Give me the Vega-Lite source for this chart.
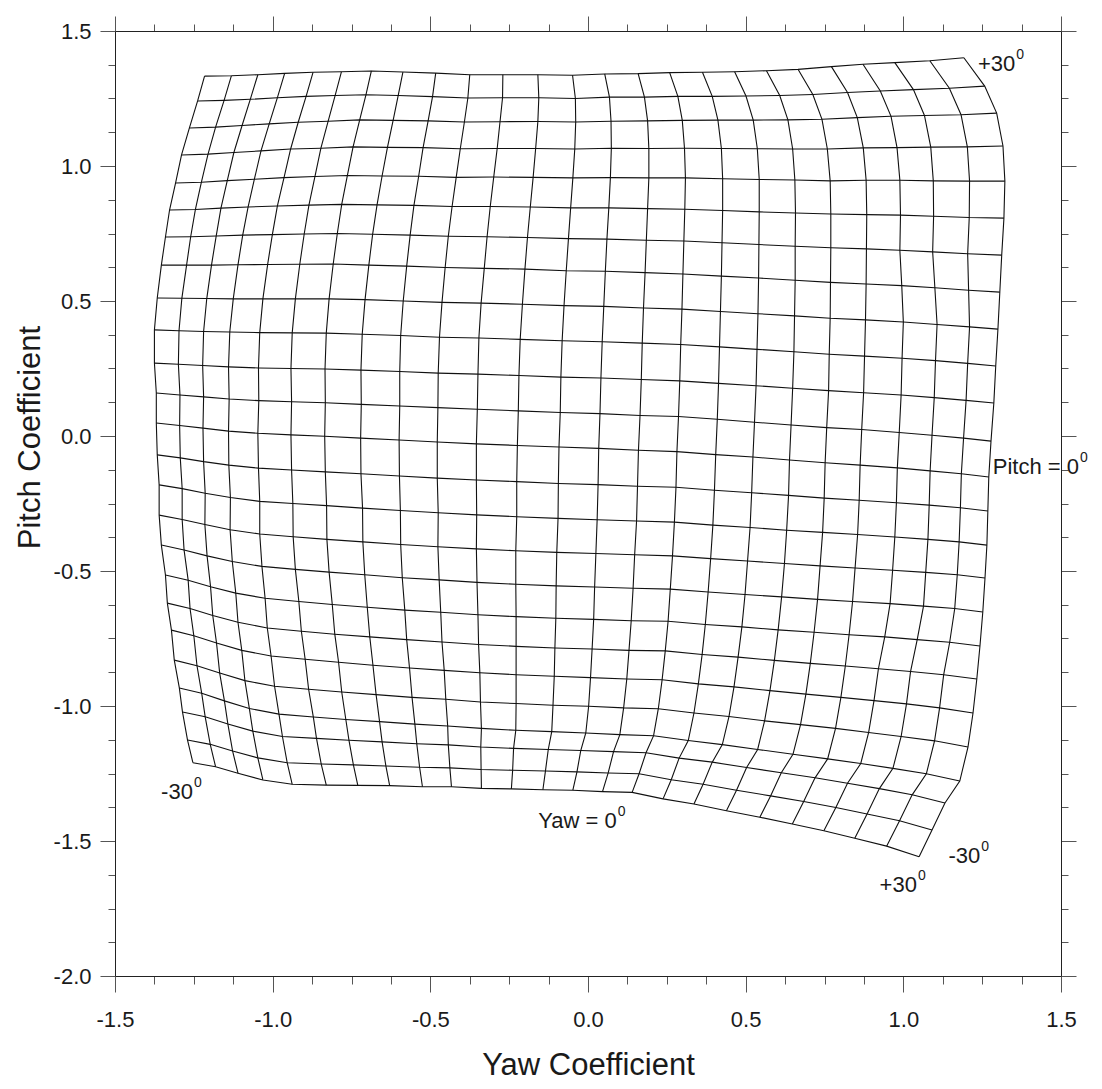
{
  "$schema": "https://vega.github.io/schema/vega-lite/v6.json",
  "width": 946,
  "height": 945,
  "autosize": {"type": "none"},
  "padding": {"left": 115, "top": 31, "right": 41, "bottom": 113},
  "background": "white",
  "config": {"view": {"stroke": null}, "font": "Liberation Sans"},
  "datasets": {
    "grid": [
{"yaw":-30,"pitch":-30,"x":-1.253,"y":-1.210},{"yaw":-27.5,"pitch":-30,"x":-1.181,"y":-1.225},{"yaw":-25,"pitch":-30,"x":-1.110,"y":-1.249},{"yaw":-22.5,"pitch":-30,"x":-1.031,"y":-1.274},{"yaw":-20,"pitch":-30,"x":-0.938,"y":-1.290},{"yaw":-17.5,"pitch":-30,"x":-0.830,"y":-1.293},{"yaw":-15,"pitch":-30,"x":-0.730,"y":-1.294},{"yaw":-12.5,"pitch":-30,"x":-0.629,"y":-1.295},{"yaw":-10,"pitch":-30,"x":-0.525,"y":-1.299},{"yaw":-7.5,"pitch":-30,"x":-0.433,"y":-1.299},{"yaw":-5,"pitch":-30,"x":-0.338,"y":-1.305},{"yaw":-2.5,"pitch":-30,"x":-0.243,"y":-1.307},{"yaw":0,"pitch":-30,"x":-0.143,"y":-1.310},{"yaw":2.5,"pitch":-30,"x":-0.048,"y":-1.312},{"yaw":5,"pitch":-30,"x":0.046,"y":-1.317},{"yaw":7.5,"pitch":-30,"x":0.140,"y":-1.320},{"yaw":10,"pitch":-30,"x":0.238,"y":-1.344},{"yaw":12.5,"pitch":-30,"x":0.336,"y":-1.363},{"yaw":15,"pitch":-30,"x":0.439,"y":-1.388},{"yaw":17.5,"pitch":-30,"x":0.545,"y":-1.412},{"yaw":20,"pitch":-30,"x":0.648,"y":-1.437},{"yaw":22.5,"pitch":-30,"x":0.748,"y":-1.462},{"yaw":25,"pitch":-30,"x":0.846,"y":-1.490},{"yaw":27.5,"pitch":-30,"x":0.947,"y":-1.519},{"yaw":30,"pitch":-30,"x":1.050,"y":-1.558},
{"yaw":-30,"pitch":-27.5,"x":-1.270,"y":-1.126},{"yaw":-27.5,"pitch":-27.5,"x":-1.198,"y":-1.142},{"yaw":-25,"pitch":-27.5,"x":-1.127,"y":-1.167},{"yaw":-22.5,"pitch":-27.5,"x":-1.047,"y":-1.192},{"yaw":-20,"pitch":-27.5,"x":-0.954,"y":-1.210},{"yaw":-17.5,"pitch":-27.5,"x":-0.846,"y":-1.215},{"yaw":-15,"pitch":-27.5,"x":-0.744,"y":-1.218},{"yaw":-12.5,"pitch":-27.5,"x":-0.641,"y":-1.222},{"yaw":-10,"pitch":-27.5,"x":-0.534,"y":-1.227},{"yaw":-7.5,"pitch":-27.5,"x":-0.438,"y":-1.229},{"yaw":-5,"pitch":-27.5,"x":-0.339,"y":-1.235},{"yaw":-2.5,"pitch":-27.5,"x":-0.239,"y":-1.238},{"yaw":0,"pitch":-27.5,"x":-0.135,"y":-1.241},{"yaw":2.5,"pitch":-27.5,"x":-0.035,"y":-1.244},{"yaw":5,"pitch":-27.5,"x":0.064,"y":-1.248},{"yaw":7.5,"pitch":-27.5,"x":0.162,"y":-1.251},{"yaw":10,"pitch":-27.5,"x":0.264,"y":-1.273},{"yaw":12.5,"pitch":-27.5,"x":0.365,"y":-1.290},{"yaw":15,"pitch":-27.5,"x":0.471,"y":-1.312},{"yaw":17.5,"pitch":-27.5,"x":0.579,"y":-1.333},{"yaw":20,"pitch":-27.5,"x":0.684,"y":-1.354},{"yaw":22.5,"pitch":-27.5,"x":0.786,"y":-1.376},{"yaw":25,"pitch":-27.5,"x":0.885,"y":-1.400},{"yaw":27.5,"pitch":-27.5,"x":0.988,"y":-1.425},{"yaw":30,"pitch":-27.5,"x":1.091,"y":-1.459},
{"yaw":-30,"pitch":-25,"x":-1.286,"y":-1.022},{"yaw":-27.5,"pitch":-25,"x":-1.214,"y":-1.040},{"yaw":-25,"pitch":-25,"x":-1.142,"y":-1.067},{"yaw":-22.5,"pitch":-25,"x":-1.063,"y":-1.093},{"yaw":-20,"pitch":-25,"x":-0.969,"y":-1.113},{"yaw":-17.5,"pitch":-25,"x":-0.861,"y":-1.120},{"yaw":-15,"pitch":-25,"x":-0.758,"y":-1.127},{"yaw":-12.5,"pitch":-25,"x":-0.653,"y":-1.133},{"yaw":-10,"pitch":-25,"x":-0.543,"y":-1.140},{"yaw":-7.5,"pitch":-25,"x":-0.443,"y":-1.144},{"yaw":-5,"pitch":-25,"x":-0.340,"y":-1.152},{"yaw":-2.5,"pitch":-25,"x":-0.236,"y":-1.157},{"yaw":0,"pitch":-25,"x":-0.126,"y":-1.161},{"yaw":2.5,"pitch":-25,"x":-0.023,"y":-1.165},{"yaw":5,"pitch":-25,"x":0.081,"y":-1.169},{"yaw":7.5,"pitch":-25,"x":0.184,"y":-1.173},{"yaw":10,"pitch":-25,"x":0.289,"y":-1.193},{"yaw":12.5,"pitch":-25,"x":0.394,"y":-1.208},{"yaw":15,"pitch":-25,"x":0.503,"y":-1.228},{"yaw":17.5,"pitch":-25,"x":0.613,"y":-1.247},{"yaw":20,"pitch":-25,"x":0.720,"y":-1.266},{"yaw":22.5,"pitch":-25,"x":0.823,"y":-1.286},{"yaw":25,"pitch":-25,"x":0.924,"y":-1.306},{"yaw":27.5,"pitch":-25,"x":1.028,"y":-1.329},{"yaw":30,"pitch":-25,"x":1.132,"y":-1.359},
{"yaw":-30,"pitch":-22.5,"x":-1.296,"y":-0.933},{"yaw":-27.5,"pitch":-22.5,"x":-1.225,"y":-0.953},{"yaw":-25,"pitch":-22.5,"x":-1.153,"y":-0.981},{"yaw":-22.5,"pitch":-22.5,"x":-1.074,"y":-1.009},{"yaw":-20,"pitch":-22.5,"x":-0.980,"y":-1.030},{"yaw":-17.5,"pitch":-22.5,"x":-0.871,"y":-1.041},{"yaw":-15,"pitch":-22.5,"x":-0.768,"y":-1.050},{"yaw":-12.5,"pitch":-22.5,"x":-0.661,"y":-1.058},{"yaw":-10,"pitch":-22.5,"x":-0.549,"y":-1.067},{"yaw":-7.5,"pitch":-22.5,"x":-0.445,"y":-1.074},{"yaw":-5,"pitch":-22.5,"x":-0.338,"y":-1.083},{"yaw":-2.5,"pitch":-22.5,"x":-0.229,"y":-1.090},{"yaw":0,"pitch":-22.5,"x":-0.115,"y":-1.095},{"yaw":2.5,"pitch":-22.5,"x":-0.007,"y":-1.100},{"yaw":5,"pitch":-22.5,"x":0.101,"y":-1.106},{"yaw":7.5,"pitch":-22.5,"x":0.208,"y":-1.110},{"yaw":10,"pitch":-22.5,"x":0.318,"y":-1.128},{"yaw":12.5,"pitch":-22.5,"x":0.426,"y":-1.143},{"yaw":15,"pitch":-22.5,"x":0.538,"y":-1.161},{"yaw":17.5,"pitch":-22.5,"x":0.650,"y":-1.179},{"yaw":20,"pitch":-22.5,"x":0.760,"y":-1.196},{"yaw":22.5,"pitch":-22.5,"x":0.865,"y":-1.213},{"yaw":25,"pitch":-22.5,"x":0.967,"y":-1.231},{"yaw":27.5,"pitch":-22.5,"x":1.073,"y":-1.251},{"yaw":30,"pitch":-22.5,"x":1.179,"y":-1.278},
{"yaw":-30,"pitch":-20,"x":-1.312,"y":-0.830},{"yaw":-27.5,"pitch":-20,"x":-1.240,"y":-0.851},{"yaw":-25,"pitch":-20,"x":-1.168,"y":-0.878},{"yaw":-22.5,"pitch":-20,"x":-1.088,"y":-0.906},{"yaw":-20,"pitch":-20,"x":-0.994,"y":-0.927},{"yaw":-17.5,"pitch":-20,"x":-0.886,"y":-0.938},{"yaw":-15,"pitch":-20,"x":-0.781,"y":-0.948},{"yaw":-12.5,"pitch":-20,"x":-0.672,"y":-0.958},{"yaw":-10,"pitch":-20,"x":-0.558,"y":-0.968},{"yaw":-7.5,"pitch":-20,"x":-0.451,"y":-0.975},{"yaw":-5,"pitch":-20,"x":-0.341,"y":-0.985},{"yaw":-2.5,"pitch":-20,"x":-0.228,"y":-0.991},{"yaw":0,"pitch":-20,"x":-0.111,"y":-0.997},{"yaw":2.5,"pitch":-20,"x":0.002,"y":-1.001},{"yaw":5,"pitch":-20,"x":0.113,"y":-1.007},{"yaw":7.5,"pitch":-20,"x":0.223,"y":-1.010},{"yaw":10,"pitch":-20,"x":0.336,"y":-1.026},{"yaw":12.5,"pitch":-20,"x":0.447,"y":-1.039},{"yaw":15,"pitch":-20,"x":0.560,"y":-1.055},{"yaw":17.5,"pitch":-20,"x":0.674,"y":-1.069},{"yaw":20,"pitch":-20,"x":0.785,"y":-1.083},{"yaw":22.5,"pitch":-20,"x":0.890,"y":-1.098},{"yaw":25,"pitch":-20,"x":0.993,"y":-1.113},{"yaw":27.5,"pitch":-20,"x":1.099,"y":-1.129},{"yaw":30,"pitch":-20,"x":1.205,"y":-1.152},
{"yaw":-30,"pitch":-17.5,"x":-1.321,"y":-0.719},{"yaw":-27.5,"pitch":-17.5,"x":-1.250,"y":-0.740},{"yaw":-25,"pitch":-17.5,"x":-1.178,"y":-0.767},{"yaw":-22.5,"pitch":-17.5,"x":-1.098,"y":-0.794},{"yaw":-20,"pitch":-17.5,"x":-1.005,"y":-0.815},{"yaw":-17.5,"pitch":-17.5,"x":-0.897,"y":-0.827},{"yaw":-15,"pitch":-17.5,"x":-0.791,"y":-0.838},{"yaw":-12.5,"pitch":-17.5,"x":-0.682,"y":-0.849},{"yaw":-10,"pitch":-17.5,"x":-0.566,"y":-0.859},{"yaw":-7.5,"pitch":-17.5,"x":-0.456,"y":-0.868},{"yaw":-5,"pitch":-17.5,"x":-0.343,"y":-0.877},{"yaw":-2.5,"pitch":-17.5,"x":-0.228,"y":-0.884},{"yaw":0,"pitch":-17.5,"x":-0.107,"y":-0.890},{"yaw":2.5,"pitch":-17.5,"x":0.008,"y":-0.895},{"yaw":5,"pitch":-17.5,"x":0.123,"y":-0.900},{"yaw":7.5,"pitch":-17.5,"x":0.235,"y":-0.903},{"yaw":10,"pitch":-17.5,"x":0.350,"y":-0.918},{"yaw":12.5,"pitch":-17.5,"x":0.463,"y":-0.929},{"yaw":15,"pitch":-17.5,"x":0.577,"y":-0.943},{"yaw":17.5,"pitch":-17.5,"x":0.691,"y":-0.956},{"yaw":20,"pitch":-17.5,"x":0.802,"y":-0.968},{"yaw":22.5,"pitch":-17.5,"x":0.907,"y":-0.980},{"yaw":25,"pitch":-17.5,"x":1.010,"y":-0.992},{"yaw":27.5,"pitch":-17.5,"x":1.115,"y":-1.007},{"yaw":30,"pitch":-17.5,"x":1.221,"y":-1.026},
{"yaw":-30,"pitch":-15,"x":-1.334,"y":-0.619},{"yaw":-27.5,"pitch":-15,"x":-1.262,"y":-0.639},{"yaw":-25,"pitch":-15,"x":-1.190,"y":-0.665},{"yaw":-22.5,"pitch":-15,"x":-1.110,"y":-0.690},{"yaw":-20,"pitch":-15,"x":-1.017,"y":-0.711},{"yaw":-17.5,"pitch":-15,"x":-0.909,"y":-0.723},{"yaw":-15,"pitch":-15,"x":-0.803,"y":-0.734},{"yaw":-12.5,"pitch":-15,"x":-0.692,"y":-0.744},{"yaw":-10,"pitch":-15,"x":-0.575,"y":-0.754},{"yaw":-7.5,"pitch":-15,"x":-0.463,"y":-0.763},{"yaw":-5,"pitch":-15,"x":-0.347,"y":-0.772},{"yaw":-2.5,"pitch":-15,"x":-0.228,"y":-0.779},{"yaw":0,"pitch":-15,"x":-0.105,"y":-0.785},{"yaw":2.5,"pitch":-15,"x":0.013,"y":-0.789},{"yaw":5,"pitch":-15,"x":0.130,"y":-0.794},{"yaw":7.5,"pitch":-15,"x":0.245,"y":-0.796},{"yaw":10,"pitch":-15,"x":0.362,"y":-0.809},{"yaw":12.5,"pitch":-15,"x":0.476,"y":-0.819},{"yaw":15,"pitch":-15,"x":0.591,"y":-0.831},{"yaw":17.5,"pitch":-15,"x":0.705,"y":-0.842},{"yaw":20,"pitch":-15,"x":0.816,"y":-0.852},{"yaw":22.5,"pitch":-15,"x":0.921,"y":-0.862},{"yaw":25,"pitch":-15,"x":1.023,"y":-0.872},{"yaw":27.5,"pitch":-15,"x":1.128,"y":-0.884},{"yaw":30,"pitch":-15,"x":1.233,"y":-0.900},
{"yaw":-30,"pitch":-12.5,"x":-1.340,"y":-0.515},{"yaw":-27.5,"pitch":-12.5,"x":-1.268,"y":-0.534},{"yaw":-25,"pitch":-12.5,"x":-1.197,"y":-0.558},{"yaw":-22.5,"pitch":-12.5,"x":-1.117,"y":-0.582},{"yaw":-20,"pitch":-12.5,"x":-1.024,"y":-0.601},{"yaw":-17.5,"pitch":-12.5,"x":-0.917,"y":-0.613},{"yaw":-15,"pitch":-12.5,"x":-0.811,"y":-0.624},{"yaw":-12.5,"pitch":-12.5,"x":-0.700,"y":-0.634},{"yaw":-10,"pitch":-12.5,"x":-0.581,"y":-0.645},{"yaw":-7.5,"pitch":-12.5,"x":-0.467,"y":-0.653},{"yaw":-5,"pitch":-12.5,"x":-0.349,"y":-0.662},{"yaw":-2.5,"pitch":-12.5,"x":-0.228,"y":-0.669},{"yaw":0,"pitch":-12.5,"x":-0.102,"y":-0.675},{"yaw":2.5,"pitch":-12.5,"x":0.018,"y":-0.679},{"yaw":5,"pitch":-12.5,"x":0.137,"y":-0.684},{"yaw":7.5,"pitch":-12.5,"x":0.254,"y":-0.686},{"yaw":10,"pitch":-12.5,"x":0.372,"y":-0.698},{"yaw":12.5,"pitch":-12.5,"x":0.488,"y":-0.707},{"yaw":15,"pitch":-12.5,"x":0.603,"y":-0.718},{"yaw":17.5,"pitch":-12.5,"x":0.717,"y":-0.727},{"yaw":20,"pitch":-12.5,"x":0.828,"y":-0.736},{"yaw":22.5,"pitch":-12.5,"x":0.941,"y":-0.744},{"yaw":25,"pitch":-12.5,"x":1.044,"y":-0.754},{"yaw":27.5,"pitch":-12.5,"x":1.147,"y":-0.764},{"yaw":30,"pitch":-12.5,"x":1.243,"y":-0.778},
{"yaw":-30,"pitch":-10,"x":-1.353,"y":-0.404},{"yaw":-27.5,"pitch":-10,"x":-1.281,"y":-0.422},{"yaw":-25,"pitch":-10,"x":-1.208,"y":-0.444},{"yaw":-22.5,"pitch":-10,"x":-1.128,"y":-0.465},{"yaw":-20,"pitch":-10,"x":-1.034,"y":-0.483},{"yaw":-17.5,"pitch":-10,"x":-0.928,"y":-0.494},{"yaw":-15,"pitch":-10,"x":-0.821,"y":-0.504},{"yaw":-12.5,"pitch":-10,"x":-0.708,"y":-0.514},{"yaw":-10,"pitch":-10,"x":-0.589,"y":-0.525},{"yaw":-7.5,"pitch":-10,"x":-0.472,"y":-0.533},{"yaw":-5,"pitch":-10,"x":-0.352,"y":-0.542},{"yaw":-2.5,"pitch":-10,"x":-0.229,"y":-0.549},{"yaw":0,"pitch":-10,"x":-0.101,"y":-0.555},{"yaw":2.5,"pitch":-10,"x":0.021,"y":-0.559},{"yaw":5,"pitch":-10,"x":0.143,"y":-0.564},{"yaw":7.5,"pitch":-10,"x":0.261,"y":-0.567},{"yaw":10,"pitch":-10,"x":0.381,"y":-0.578},{"yaw":12.5,"pitch":-10,"x":0.498,"y":-0.587},{"yaw":15,"pitch":-10,"x":0.614,"y":-0.596},{"yaw":17.5,"pitch":-10,"x":0.728,"y":-0.605},{"yaw":20,"pitch":-10,"x":0.839,"y":-0.613},{"yaw":22.5,"pitch":-10,"x":0.958,"y":-0.621},{"yaw":25,"pitch":-10,"x":1.064,"y":-0.630},{"yaw":27.5,"pitch":-10,"x":1.163,"y":-0.639},{"yaw":30,"pitch":-10,"x":1.252,"y":-0.652},
{"yaw":-30,"pitch":-7.5,"x":-1.360,"y":-0.293},{"yaw":-27.5,"pitch":-7.5,"x":-1.287,"y":-0.309},{"yaw":-25,"pitch":-7.5,"x":-1.215,"y":-0.328},{"yaw":-22.5,"pitch":-7.5,"x":-1.135,"y":-0.347},{"yaw":-20,"pitch":-7.5,"x":-1.041,"y":-0.363},{"yaw":-17.5,"pitch":-7.5,"x":-0.935,"y":-0.373},{"yaw":-15,"pitch":-7.5,"x":-0.828,"y":-0.383},{"yaw":-12.5,"pitch":-7.5,"x":-0.714,"y":-0.392},{"yaw":-10,"pitch":-7.5,"x":-0.594,"y":-0.402},{"yaw":-7.5,"pitch":-7.5,"x":-0.476,"y":-0.410},{"yaw":-5,"pitch":-7.5,"x":-0.354,"y":-0.418},{"yaw":-2.5,"pitch":-7.5,"x":-0.229,"y":-0.425},{"yaw":0,"pitch":-7.5,"x":-0.099,"y":-0.431},{"yaw":2.5,"pitch":-7.5,"x":0.025,"y":-0.435},{"yaw":5,"pitch":-7.5,"x":0.148,"y":-0.440},{"yaw":7.5,"pitch":-7.5,"x":0.268,"y":-0.444},{"yaw":10,"pitch":-7.5,"x":0.389,"y":-0.454},{"yaw":12.5,"pitch":-7.5,"x":0.506,"y":-0.463},{"yaw":15,"pitch":-7.5,"x":0.623,"y":-0.472},{"yaw":17.5,"pitch":-7.5,"x":0.736,"y":-0.481},{"yaw":20,"pitch":-7.5,"x":0.847,"y":-0.489},{"yaw":22.5,"pitch":-7.5,"x":0.966,"y":-0.497},{"yaw":25,"pitch":-7.5,"x":1.071,"y":-0.505},{"yaw":27.5,"pitch":-7.5,"x":1.171,"y":-0.514},{"yaw":30,"pitch":-7.5,"x":1.259,"y":-0.526},
{"yaw":-30,"pitch":-5,"x":-1.360,"y":-0.181},{"yaw":-27.5,"pitch":-5,"x":-1.287,"y":-0.195},{"yaw":-25,"pitch":-5,"x":-1.214,"y":-0.212},{"yaw":-22.5,"pitch":-5,"x":-1.134,"y":-0.228},{"yaw":-20,"pitch":-5,"x":-1.041,"y":-0.242},{"yaw":-17.5,"pitch":-5,"x":-0.936,"y":-0.250},{"yaw":-15,"pitch":-5,"x":-0.829,"y":-0.258},{"yaw":-12.5,"pitch":-5,"x":-0.715,"y":-0.267},{"yaw":-10,"pitch":-5,"x":-0.595,"y":-0.276},{"yaw":-7.5,"pitch":-5,"x":-0.475,"y":-0.284},{"yaw":-5,"pitch":-5,"x":-0.353,"y":-0.292},{"yaw":-2.5,"pitch":-5,"x":-0.226,"y":-0.299},{"yaw":0,"pitch":-5,"x":-0.095,"y":-0.305},{"yaw":2.5,"pitch":-5,"x":0.029,"y":-0.310},{"yaw":5,"pitch":-5,"x":0.154,"y":-0.315},{"yaw":7.5,"pitch":-5,"x":0.274,"y":-0.319},{"yaw":10,"pitch":-5,"x":0.396,"y":-0.330},{"yaw":12.5,"pitch":-5,"x":0.514,"y":-0.339},{"yaw":15,"pitch":-5,"x":0.630,"y":-0.349},{"yaw":17.5,"pitch":-5,"x":0.744,"y":-0.357},{"yaw":20,"pitch":-5,"x":0.855,"y":-0.365},{"yaw":22.5,"pitch":-5,"x":0.973,"y":-0.374},{"yaw":25,"pitch":-5,"x":1.078,"y":-0.383},{"yaw":27.5,"pitch":-5,"x":1.177,"y":-0.392},{"yaw":30,"pitch":-5,"x":1.265,"y":-0.404},
{"yaw":-30,"pitch":-2.5,"x":-1.366,"y":-0.070},{"yaw":-27.5,"pitch":-2.5,"x":-1.293,"y":-0.081},{"yaw":-25,"pitch":-2.5,"x":-1.219,"y":-0.095},{"yaw":-22.5,"pitch":-2.5,"x":-1.139,"y":-0.108},{"yaw":-20,"pitch":-2.5,"x":-1.045,"y":-0.119},{"yaw":-17.5,"pitch":-2.5,"x":-0.940,"y":-0.126},{"yaw":-15,"pitch":-2.5,"x":-0.833,"y":-0.133},{"yaw":-12.5,"pitch":-2.5,"x":-0.720,"y":-0.140},{"yaw":-10,"pitch":-2.5,"x":-0.598,"y":-0.148},{"yaw":-7.5,"pitch":-2.5,"x":-0.478,"y":-0.156},{"yaw":-5,"pitch":-2.5,"x":-0.354,"y":-0.163},{"yaw":-2.5,"pitch":-2.5,"x":-0.226,"y":-0.169},{"yaw":0,"pitch":-2.5,"x":-0.094,"y":-0.176},{"yaw":2.5,"pitch":-2.5,"x":0.032,"y":-0.180},{"yaw":5,"pitch":-2.5,"x":0.157,"y":-0.186},{"yaw":7.5,"pitch":-2.5,"x":0.279,"y":-0.190},{"yaw":10,"pitch":-2.5,"x":0.401,"y":-0.201},{"yaw":12.5,"pitch":-2.5,"x":0.519,"y":-0.210},{"yaw":15,"pitch":-2.5,"x":0.636,"y":-0.220},{"yaw":17.5,"pitch":-2.5,"x":0.749,"y":-0.230},{"yaw":20,"pitch":-2.5,"x":0.860,"y":-0.238},{"yaw":22.5,"pitch":-2.5,"x":0.978,"y":-0.247},{"yaw":25,"pitch":-2.5,"x":1.082,"y":-0.256},{"yaw":27.5,"pitch":-2.5,"x":1.181,"y":-0.266},{"yaw":30,"pitch":-2.5,"x":1.268,"y":-0.278},
{"yaw":-30,"pitch":0,"x":-1.369,"y":0.048},{"yaw":-27.5,"pitch":0,"x":-1.295,"y":0.039},{"yaw":-25,"pitch":0,"x":-1.221,"y":0.029},{"yaw":-22.5,"pitch":0,"x":-1.140,"y":0.018},{"yaw":-20,"pitch":0,"x":-1.047,"y":0.010},{"yaw":-17.5,"pitch":0,"x":-0.942,"y":0.004},{"yaw":-15,"pitch":0,"x":-0.835,"y":-0.001},{"yaw":-12.5,"pitch":0,"x":-0.721,"y":-0.008},{"yaw":-10,"pitch":0,"x":-0.599,"y":-0.015},{"yaw":-7.5,"pitch":0,"x":-0.478,"y":-0.022},{"yaw":-5,"pitch":0,"x":-0.354,"y":-0.029},{"yaw":-2.5,"pitch":0,"x":-0.224,"y":-0.035},{"yaw":0,"pitch":0,"x":-0.092,"y":-0.041},{"yaw":2.5,"pitch":0,"x":0.034,"y":-0.046},{"yaw":5,"pitch":0,"x":0.160,"y":-0.053},{"yaw":7.5,"pitch":0,"x":0.282,"y":-0.058},{"yaw":10,"pitch":0,"x":0.405,"y":-0.069},{"yaw":12.5,"pitch":0,"x":0.523,"y":-0.078},{"yaw":15,"pitch":0,"x":0.639,"y":-0.089},{"yaw":17.5,"pitch":0,"x":0.752,"y":-0.099},{"yaw":20,"pitch":0,"x":0.863,"y":-0.108},{"yaw":22.5,"pitch":0,"x":0.981,"y":-0.118},{"yaw":25,"pitch":0,"x":1.085,"y":-0.129},{"yaw":27.5,"pitch":0,"x":1.184,"y":-0.140},{"yaw":30,"pitch":0,"x":1.271,"y":-0.152},
{"yaw":-30,"pitch":2.5,"x":-1.369,"y":0.159},{"yaw":-27.5,"pitch":2.5,"x":-1.294,"y":0.152},{"yaw":-25,"pitch":2.5,"x":-1.219,"y":0.145},{"yaw":-22.5,"pitch":2.5,"x":-1.138,"y":0.137},{"yaw":-20,"pitch":2.5,"x":-1.044,"y":0.131},{"yaw":-17.5,"pitch":2.5,"x":-0.940,"y":0.127},{"yaw":-15,"pitch":2.5,"x":-0.833,"y":0.123},{"yaw":-12.5,"pitch":2.5,"x":-0.719,"y":0.117},{"yaw":-10,"pitch":2.5,"x":-0.597,"y":0.111},{"yaw":-7.5,"pitch":2.5,"x":-0.476,"y":0.105},{"yaw":-5,"pitch":2.5,"x":-0.351,"y":0.099},{"yaw":-2.5,"pitch":2.5,"x":-0.221,"y":0.093},{"yaw":0,"pitch":2.5,"x":-0.088,"y":0.087},{"yaw":2.5,"pitch":2.5,"x":0.038,"y":0.083},{"yaw":5,"pitch":2.5,"x":0.165,"y":0.076},{"yaw":7.5,"pitch":2.5,"x":0.287,"y":0.072},{"yaw":10,"pitch":2.5,"x":0.410,"y":0.062},{"yaw":12.5,"pitch":2.5,"x":0.528,"y":0.051},{"yaw":15,"pitch":2.5,"x":0.644,"y":0.041},{"yaw":17.5,"pitch":2.5,"x":0.757,"y":0.031},{"yaw":20,"pitch":2.5,"x":0.868,"y":0.024},{"yaw":22.5,"pitch":2.5,"x":0.987,"y":0.013},{"yaw":25,"pitch":2.5,"x":1.091,"y":0.003},{"yaw":27.5,"pitch":2.5,"x":1.191,"y":-0.008},{"yaw":30,"pitch":2.5,"x":1.278,"y":-0.019},
{"yaw":-30,"pitch":5,"x":-1.375,"y":0.270},{"yaw":-27.5,"pitch":5,"x":-1.299,"y":0.266},{"yaw":-25,"pitch":5,"x":-1.222,"y":0.261},{"yaw":-22.5,"pitch":5,"x":-1.140,"y":0.256},{"yaw":-20,"pitch":5,"x":-1.045,"y":0.252},{"yaw":-17.5,"pitch":5,"x":-0.942,"y":0.250},{"yaw":-15,"pitch":5,"x":-0.834,"y":0.248},{"yaw":-12.5,"pitch":5,"x":-0.720,"y":0.244},{"yaw":-10,"pitch":5,"x":-0.597,"y":0.239},{"yaw":-7.5,"pitch":5,"x":-0.475,"y":0.233},{"yaw":-5,"pitch":5,"x":-0.349,"y":0.229},{"yaw":-2.5,"pitch":5,"x":-0.219,"y":0.224},{"yaw":0,"pitch":5,"x":-0.086,"y":0.218},{"yaw":2.5,"pitch":5,"x":0.041,"y":0.215},{"yaw":5,"pitch":5,"x":0.169,"y":0.209},{"yaw":7.5,"pitch":5,"x":0.291,"y":0.204},{"yaw":10,"pitch":5,"x":0.414,"y":0.195},{"yaw":12.5,"pitch":5,"x":0.533,"y":0.186},{"yaw":15,"pitch":5,"x":0.649,"y":0.177},{"yaw":17.5,"pitch":5,"x":0.763,"y":0.168},{"yaw":20,"pitch":5,"x":0.874,"y":0.160},{"yaw":22.5,"pitch":5,"x":0.993,"y":0.152},{"yaw":25,"pitch":5,"x":1.098,"y":0.142},{"yaw":27.5,"pitch":5,"x":1.199,"y":0.132},{"yaw":30,"pitch":5,"x":1.287,"y":0.122},
{"yaw":-30,"pitch":7.5,"x":-1.375,"y":0.393},{"yaw":-27.5,"pitch":7.5,"x":-1.297,"y":0.390},{"yaw":-25,"pitch":7.5,"x":-1.219,"y":0.387},{"yaw":-22.5,"pitch":7.5,"x":-1.136,"y":0.385},{"yaw":-20,"pitch":7.5,"x":-1.041,"y":0.383},{"yaw":-17.5,"pitch":7.5,"x":-0.938,"y":0.382},{"yaw":-15,"pitch":7.5,"x":-0.830,"y":0.381},{"yaw":-12.5,"pitch":7.5,"x":-0.716,"y":0.377},{"yaw":-10,"pitch":7.5,"x":-0.594,"y":0.372},{"yaw":-7.5,"pitch":7.5,"x":-0.471,"y":0.366},{"yaw":-5,"pitch":7.5,"x":-0.346,"y":0.363},{"yaw":-2.5,"pitch":7.5,"x":-0.215,"y":0.358},{"yaw":0,"pitch":7.5,"x":-0.082,"y":0.353},{"yaw":2.5,"pitch":7.5,"x":0.045,"y":0.349},{"yaw":5,"pitch":7.5,"x":0.172,"y":0.344},{"yaw":7.5,"pitch":7.5,"x":0.294,"y":0.339},{"yaw":10,"pitch":7.5,"x":0.417,"y":0.330},{"yaw":12.5,"pitch":7.5,"x":0.536,"y":0.321},{"yaw":15,"pitch":7.5,"x":0.653,"y":0.312},{"yaw":17.5,"pitch":7.5,"x":0.765,"y":0.303},{"yaw":20,"pitch":7.5,"x":0.877,"y":0.296},{"yaw":22.5,"pitch":7.5,"x":0.996,"y":0.288},{"yaw":25,"pitch":7.5,"x":1.102,"y":0.279},{"yaw":27.5,"pitch":7.5,"x":1.204,"y":0.269},{"yaw":30,"pitch":7.5,"x":1.293,"y":0.259},
{"yaw":-30,"pitch":10,"x":-1.366,"y":0.511},{"yaw":-27.5,"pitch":10,"x":-1.288,"y":0.510},{"yaw":-25,"pitch":10,"x":-1.209,"y":0.509},{"yaw":-22.5,"pitch":10,"x":-1.125,"y":0.508},{"yaw":-20,"pitch":10,"x":-1.031,"y":0.508},{"yaw":-17.5,"pitch":10,"x":-0.928,"y":0.508},{"yaw":-15,"pitch":10,"x":-0.821,"y":0.508},{"yaw":-12.5,"pitch":10,"x":-0.707,"y":0.505},{"yaw":-10,"pitch":10,"x":-0.586,"y":0.500},{"yaw":-7.5,"pitch":10,"x":-0.463,"y":0.495},{"yaw":-5,"pitch":10,"x":-0.339,"y":0.492},{"yaw":-2.5,"pitch":10,"x":-0.208,"y":0.488},{"yaw":0,"pitch":10,"x":-0.076,"y":0.483},{"yaw":2.5,"pitch":10,"x":0.050,"y":0.480},{"yaw":5,"pitch":10,"x":0.176,"y":0.474},{"yaw":7.5,"pitch":10,"x":0.298,"y":0.470},{"yaw":10,"pitch":10,"x":0.420,"y":0.461},{"yaw":12.5,"pitch":10,"x":0.539,"y":0.453},{"yaw":15,"pitch":10,"x":0.655,"y":0.445},{"yaw":17.5,"pitch":10,"x":0.768,"y":0.436},{"yaw":20,"pitch":10,"x":0.880,"y":0.430},{"yaw":22.5,"pitch":10,"x":1.000,"y":0.422},{"yaw":25,"pitch":10,"x":1.107,"y":0.413},{"yaw":27.5,"pitch":10,"x":1.210,"y":0.404},{"yaw":30,"pitch":10,"x":1.300,"y":0.396},
{"yaw":-30,"pitch":12.5,"x":-1.353,"y":0.633},{"yaw":-27.5,"pitch":12.5,"x":-1.273,"y":0.633},{"yaw":-25,"pitch":12.5,"x":-1.194,"y":0.633},{"yaw":-22.5,"pitch":12.5,"x":-1.110,"y":0.634},{"yaw":-20,"pitch":12.5,"x":-1.016,"y":0.635},{"yaw":-17.5,"pitch":12.5,"x":-0.914,"y":0.636},{"yaw":-15,"pitch":12.5,"x":-0.808,"y":0.637},{"yaw":-12.5,"pitch":12.5,"x":-0.695,"y":0.633},{"yaw":-10,"pitch":12.5,"x":-0.575,"y":0.629},{"yaw":-7.5,"pitch":12.5,"x":-0.453,"y":0.624},{"yaw":-5,"pitch":12.5,"x":-0.329,"y":0.621},{"yaw":-2.5,"pitch":12.5,"x":-0.200,"y":0.618},{"yaw":0,"pitch":12.5,"x":-0.069,"y":0.612},{"yaw":2.5,"pitch":12.5,"x":0.055,"y":0.610},{"yaw":5,"pitch":12.5,"x":0.181,"y":0.605},{"yaw":7.5,"pitch":12.5,"x":0.301,"y":0.600},{"yaw":10,"pitch":12.5,"x":0.423,"y":0.592},{"yaw":12.5,"pitch":12.5,"x":0.541,"y":0.585},{"yaw":15,"pitch":12.5,"x":0.657,"y":0.577},{"yaw":17.5,"pitch":12.5,"x":0.769,"y":0.569},{"yaw":20,"pitch":12.5,"x":0.882,"y":0.563},{"yaw":22.5,"pitch":12.5,"x":0.995,"y":0.557},{"yaw":25,"pitch":12.5,"x":1.100,"y":0.549},{"yaw":27.5,"pitch":12.5,"x":1.207,"y":0.540},{"yaw":30,"pitch":12.5,"x":1.306,"y":0.533},
{"yaw":-30,"pitch":15,"x":-1.340,"y":0.737},{"yaw":-27.5,"pitch":15,"x":-1.260,"y":0.738},{"yaw":-25,"pitch":15,"x":-1.179,"y":0.741},{"yaw":-22.5,"pitch":15,"x":-1.095,"y":0.744},{"yaw":-20,"pitch":15,"x":-1.001,"y":0.746},{"yaw":-17.5,"pitch":15,"x":-0.900,"y":0.748},{"yaw":-15,"pitch":15,"x":-0.795,"y":0.750},{"yaw":-12.5,"pitch":15,"x":-0.683,"y":0.747},{"yaw":-10,"pitch":15,"x":-0.564,"y":0.744},{"yaw":-7.5,"pitch":15,"x":-0.443,"y":0.740},{"yaw":-5,"pitch":15,"x":-0.320,"y":0.738},{"yaw":-2.5,"pitch":15,"x":-0.192,"y":0.735},{"yaw":0,"pitch":15,"x":-0.062,"y":0.731},{"yaw":2.5,"pitch":15,"x":0.060,"y":0.729},{"yaw":5,"pitch":15,"x":0.185,"y":0.725},{"yaw":7.5,"pitch":15,"x":0.304,"y":0.722},{"yaw":10,"pitch":15,"x":0.425,"y":0.716},{"yaw":12.5,"pitch":15,"x":0.542,"y":0.709},{"yaw":15,"pitch":15,"x":0.657,"y":0.703},{"yaw":17.5,"pitch":15,"x":0.770,"y":0.697},{"yaw":20,"pitch":15,"x":0.883,"y":0.693},{"yaw":22.5,"pitch":15,"x":0.989,"y":0.688},{"yaw":25,"pitch":15,"x":1.093,"y":0.682},{"yaw":27.5,"pitch":15,"x":1.204,"y":0.675},{"yaw":30,"pitch":15,"x":1.312,"y":0.670},
{"yaw":-30,"pitch":17.5,"x":-1.327,"y":0.837},{"yaw":-27.5,"pitch":17.5,"x":-1.245,"y":0.839},{"yaw":-25,"pitch":17.5,"x":-1.164,"y":0.844},{"yaw":-22.5,"pitch":17.5,"x":-1.078,"y":0.848},{"yaw":-20,"pitch":17.5,"x":-0.985,"y":0.852},{"yaw":-17.5,"pitch":17.5,"x":-0.885,"y":0.855},{"yaw":-15,"pitch":17.5,"x":-0.781,"y":0.858},{"yaw":-12.5,"pitch":17.5,"x":-0.669,"y":0.856},{"yaw":-10,"pitch":17.5,"x":-0.552,"y":0.854},{"yaw":-7.5,"pitch":17.5,"x":-0.431,"y":0.850},{"yaw":-5,"pitch":17.5,"x":-0.310,"y":0.850},{"yaw":-2.5,"pitch":17.5,"x":-0.183,"y":0.848},{"yaw":0,"pitch":17.5,"x":-0.055,"y":0.845},{"yaw":2.5,"pitch":17.5,"x":0.066,"y":0.845},{"yaw":5,"pitch":17.5,"x":0.189,"y":0.842},{"yaw":7.5,"pitch":17.5,"x":0.307,"y":0.840},{"yaw":10,"pitch":17.5,"x":0.427,"y":0.835},{"yaw":12.5,"pitch":17.5,"x":0.543,"y":0.830},{"yaw":15,"pitch":17.5,"x":0.658,"y":0.826},{"yaw":17.5,"pitch":17.5,"x":0.770,"y":0.822},{"yaw":20,"pitch":17.5,"x":0.884,"y":0.820},{"yaw":22.5,"pitch":17.5,"x":0.991,"y":0.818},{"yaw":25,"pitch":17.5,"x":1.096,"y":0.814},{"yaw":27.5,"pitch":17.5,"x":1.209,"y":0.809},{"yaw":30,"pitch":17.5,"x":1.319,"y":0.807},
{"yaw":-30,"pitch":20,"x":-1.308,"y":0.937},{"yaw":-27.5,"pitch":20,"x":-1.226,"y":0.940},{"yaw":-25,"pitch":20,"x":-1.144,"y":0.946},{"yaw":-22.5,"pitch":20,"x":-1.058,"y":0.951},{"yaw":-20,"pitch":20,"x":-0.964,"y":0.957},{"yaw":-17.5,"pitch":20,"x":-0.866,"y":0.961},{"yaw":-15,"pitch":20,"x":-0.763,"y":0.965},{"yaw":-12.5,"pitch":20,"x":-0.653,"y":0.963},{"yaw":-10,"pitch":20,"x":-0.537,"y":0.962},{"yaw":-7.5,"pitch":20,"x":-0.418,"y":0.958},{"yaw":-5,"pitch":20,"x":-0.299,"y":0.959},{"yaw":-2.5,"pitch":20,"x":-0.174,"y":0.958},{"yaw":0,"pitch":20,"x":-0.048,"y":0.956},{"yaw":2.5,"pitch":20,"x":0.071,"y":0.957},{"yaw":5,"pitch":20,"x":0.193,"y":0.956},{"yaw":7.5,"pitch":20,"x":0.309,"y":0.956},{"yaw":10,"pitch":20,"x":0.427,"y":0.953},{"yaw":12.5,"pitch":20,"x":0.543,"y":0.950},{"yaw":15,"pitch":20,"x":0.656,"y":0.948},{"yaw":17.5,"pitch":20,"x":0.768,"y":0.945},{"yaw":20,"pitch":20,"x":0.882,"y":0.947},{"yaw":22.5,"pitch":20,"x":0.989,"y":0.947},{"yaw":25,"pitch":20,"x":1.095,"y":0.945},{"yaw":27.5,"pitch":20,"x":1.210,"y":0.944},{"yaw":30,"pitch":20,"x":1.322,"y":0.944},
{"yaw":-30,"pitch":22.5,"x":-1.289,"y":1.041},{"yaw":-27.5,"pitch":22.5,"x":-1.205,"y":1.044},{"yaw":-25,"pitch":22.5,"x":-1.123,"y":1.050},{"yaw":-22.5,"pitch":22.5,"x":-1.037,"y":1.056},{"yaw":-20,"pitch":22.5,"x":-0.943,"y":1.063},{"yaw":-17.5,"pitch":22.5,"x":-0.847,"y":1.066},{"yaw":-15,"pitch":22.5,"x":-0.745,"y":1.071},{"yaw":-12.5,"pitch":22.5,"x":-0.636,"y":1.069},{"yaw":-10,"pitch":22.5,"x":-0.523,"y":1.068},{"yaw":-7.5,"pitch":22.5,"x":-0.405,"y":1.064},{"yaw":-5,"pitch":22.5,"x":-0.288,"y":1.065},{"yaw":-2.5,"pitch":22.5,"x":-0.166,"y":1.065},{"yaw":0,"pitch":22.5,"x":-0.042,"y":1.063},{"yaw":2.5,"pitch":22.5,"x":0.074,"y":1.066},{"yaw":5,"pitch":22.5,"x":0.193,"y":1.065},{"yaw":7.5,"pitch":22.5,"x":0.306,"y":1.066},{"yaw":10,"pitch":22.5,"x":0.423,"y":1.065},{"yaw":12.5,"pitch":22.5,"x":0.537,"y":1.064},{"yaw":15,"pitch":22.5,"x":0.649,"y":1.063},{"yaw":17.5,"pitch":22.5,"x":0.759,"y":1.063},{"yaw":20,"pitch":22.5,"x":0.873,"y":1.067},{"yaw":22.5,"pitch":22.5,"x":0.980,"y":1.068},{"yaw":25,"pitch":22.5,"x":1.087,"y":1.070},{"yaw":27.5,"pitch":22.5,"x":1.203,"y":1.071},{"yaw":30,"pitch":22.5,"x":1.316,"y":1.074},
{"yaw":-30,"pitch":25,"x":-1.264,"y":1.141},{"yaw":-27.5,"pitch":25,"x":-1.181,"y":1.144},{"yaw":-25,"pitch":25,"x":-1.097,"y":1.150},{"yaw":-22.5,"pitch":25,"x":-1.011,"y":1.156},{"yaw":-20,"pitch":25,"x":-0.919,"y":1.162},{"yaw":-17.5,"pitch":25,"x":-0.824,"y":1.166},{"yaw":-15,"pitch":25,"x":-0.724,"y":1.171},{"yaw":-12.5,"pitch":25,"x":-0.618,"y":1.169},{"yaw":-10,"pitch":25,"x":-0.507,"y":1.167},{"yaw":-7.5,"pitch":25,"x":-0.392,"y":1.163},{"yaw":-5,"pitch":25,"x":-0.279,"y":1.164},{"yaw":-2.5,"pitch":25,"x":-0.159,"y":1.165},{"yaw":0,"pitch":25,"x":-0.039,"y":1.163},{"yaw":2.5,"pitch":25,"x":0.073,"y":1.166},{"yaw":5,"pitch":25,"x":0.189,"y":1.167},{"yaw":7.5,"pitch":25,"x":0.299,"y":1.169},{"yaw":10,"pitch":25,"x":0.412,"y":1.170},{"yaw":12.5,"pitch":25,"x":0.524,"y":1.170},{"yaw":15,"pitch":25,"x":0.634,"y":1.171},{"yaw":17.5,"pitch":25,"x":0.742,"y":1.173},{"yaw":20,"pitch":25,"x":0.854,"y":1.179},{"yaw":22.5,"pitch":25,"x":0.961,"y":1.184},{"yaw":25,"pitch":25,"x":1.067,"y":1.187},{"yaw":27.5,"pitch":25,"x":1.183,"y":1.190},{"yaw":30,"pitch":25,"x":1.296,"y":1.196},
{"yaw":-30,"pitch":27.5,"x":-1.238,"y":1.241},{"yaw":-27.5,"pitch":27.5,"x":-1.154,"y":1.243},{"yaw":-25,"pitch":27.5,"x":-1.071,"y":1.247},{"yaw":-22.5,"pitch":27.5,"x":-0.985,"y":1.253},{"yaw":-20,"pitch":27.5,"x":-0.894,"y":1.258},{"yaw":-17.5,"pitch":27.5,"x":-0.802,"y":1.261},{"yaw":-15,"pitch":27.5,"x":-0.704,"y":1.264},{"yaw":-12.5,"pitch":27.5,"x":-0.602,"y":1.261},{"yaw":-10,"pitch":27.5,"x":-0.493,"y":1.257},{"yaw":-7.5,"pitch":27.5,"x":-0.381,"y":1.252},{"yaw":-5,"pitch":27.5,"x":-0.271,"y":1.253},{"yaw":-2.5,"pitch":27.5,"x":-0.156,"y":1.253},{"yaw":0,"pitch":27.5,"x":-0.040,"y":1.250},{"yaw":2.5,"pitch":27.5,"x":0.068,"y":1.255},{"yaw":5,"pitch":27.5,"x":0.179,"y":1.255},{"yaw":7.5,"pitch":27.5,"x":0.285,"y":1.258},{"yaw":10,"pitch":27.5,"x":0.394,"y":1.258},{"yaw":12.5,"pitch":27.5,"x":0.501,"y":1.259},{"yaw":15,"pitch":27.5,"x":0.608,"y":1.261},{"yaw":17.5,"pitch":27.5,"x":0.713,"y":1.265},{"yaw":20,"pitch":27.5,"x":0.823,"y":1.272},{"yaw":22.5,"pitch":27.5,"x":0.927,"y":1.278},{"yaw":25,"pitch":27.5,"x":1.032,"y":1.283},{"yaw":27.5,"pitch":27.5,"x":1.146,"y":1.288},{"yaw":30,"pitch":27.5,"x":1.258,"y":1.296},
{"yaw":-30,"pitch":30,"x":-1.216,"y":1.333},{"yaw":-27.5,"pitch":30,"x":-1.131,"y":1.334},{"yaw":-25,"pitch":30,"x":-1.047,"y":1.338},{"yaw":-22.5,"pitch":30,"x":-0.962,"y":1.343},{"yaw":-20,"pitch":30,"x":-0.872,"y":1.347},{"yaw":-17.5,"pitch":30,"x":-0.782,"y":1.349},{"yaw":-15,"pitch":30,"x":-0.687,"y":1.352},{"yaw":-12.5,"pitch":30,"x":-0.587,"y":1.348},{"yaw":-10,"pitch":30,"x":-0.483,"y":1.344},{"yaw":-7.5,"pitch":30,"x":-0.375,"y":1.338},{"yaw":-5,"pitch":30,"x":-0.270,"y":1.338},{"yaw":-2.5,"pitch":30,"x":-0.159,"y":1.338},{"yaw":0,"pitch":30,"x":-0.049,"y":1.336},{"yaw":2.5,"pitch":30,"x":0.053,"y":1.341},{"yaw":5,"pitch":30,"x":0.159,"y":1.342},{"yaw":7.5,"pitch":30,"x":0.259,"y":1.346},{"yaw":10,"pitch":30,"x":0.363,"y":1.347},{"yaw":12.5,"pitch":30,"x":0.465,"y":1.349},{"yaw":15,"pitch":30,"x":0.566,"y":1.353},{"yaw":17.5,"pitch":30,"x":0.666,"y":1.358},{"yaw":20,"pitch":30,"x":0.772,"y":1.368},{"yaw":22.5,"pitch":30,"x":0.872,"y":1.377},{"yaw":25,"pitch":30,"x":0.973,"y":1.383},{"yaw":27.5,"pitch":30,"x":1.084,"y":1.390},{"yaw":30,"pitch":30,"x":1.192,"y":1.401}
    ],
    "notes": [
      {"label": "+30", "x": 1.355, "y": 1.383},
      {"label": "Pitch = 0", "x": 1.557, "y": -0.111},
      {"label": "-30", "x": -1.253, "y": -1.315},
      {"label": "Yaw = 0", "x": 0.091, "y": -1.422},
      {"label": "-30", "x": 1.244, "y": -1.552},
      {"label": "+30", "x": 1.043, "y": -1.659}
    ]
  },
  "layer": [
    {
      "data": {"name": "grid"},
      "mark": {"type": "line", "color": "#111111", "strokeWidth": 1.1},
      "encoding": {
        "x": {"field": "x", "type": "quantitative",
          "scale": {"domain": [-1.5, 1.5], "nice": false, "zero": false},
          "axis": {"orient": "bottom",
            "values": [-1.5, -1.375, -1.25, -1.125, -1, -0.875, -0.75, -0.625, -0.5, -0.375, -0.25, -0.125, 0, 0.125, 0.25, 0.375, 0.5, 0.625, 0.75, 0.875, 1, 1.125, 1.25, 1.375, 1.5],
            "labelExpr": "abs(datum.value*2-round(datum.value*2))<0.001 ? (datum.value<0 ? '-' : '') + format(abs(datum.value), '.1f') : ''",
            "tickSize": {"condition": {"test": "abs(datum.value*2-round(datum.value*2))<0.001", "value": 16}, "value": 8},
            "labelPadding": 17, "labelFontSize": 22, "labelColor": "#1a1a1a", "labelFlush": false, "labelOverlap": false, "labelBound": false,
            "grid": false, "domainColor": "#222222", "tickColor": "#555555",
            "title": "Yaw Coefficient", "titleFontSize": 31, "titleFontWeight": "normal", "titleColor": "#1a1a1a",
            "titleX": 473, "titleY": 98, "titleAlign": "center", "titleBaseline": "alphabetic"}},
        "y": {"field": "y", "type": "quantitative",
          "scale": {"domain": [-2, 1.5], "nice": false, "zero": false},
          "axis": {"orient": "left",
            "values": [-2, -1.875, -1.75, -1.625, -1.5, -1.375, -1.25, -1.125, -1, -0.875, -0.75, -0.625, -0.5, -0.375, -0.25, -0.125, 0, 0.125, 0.25, 0.375, 0.5, 0.625, 0.75, 0.875, 1, 1.125, 1.25, 1.375, 1.5],
            "labelExpr": "abs(datum.value*2-round(datum.value*2))<0.001 ? (datum.value<0 ? '-' : '') + format(abs(datum.value), '.1f') : ''",
            "tickSize": {"condition": {"test": "abs(datum.value*2-round(datum.value*2))<0.001", "value": 15}, "value": 7},
            "labelPadding": 9, "labelFontSize": 22, "labelColor": "#1a1a1a", "labelFlush": false, "labelOverlap": false, "labelBound": false,
            "grid": false, "domainColor": "#222222", "tickColor": "#555555",
            "title": "Pitch Coefficient", "titleFontSize": 31, "titleFontWeight": "normal", "titleColor": "#1a1a1a",
            "titleX": -76, "titleY": 406, "titleAlign": "center", "titleBaseline": "alphabetic", "titleAngle": 270}},
        "detail": {"field": "pitch", "type": "nominal"},
        "order": {"field": "yaw", "type": "quantitative"}
      }
    },
    {
      "data": {"name": "grid"},
      "mark": {"type": "line", "color": "#111111", "strokeWidth": 1.1},
      "encoding": {
        "x": {"field": "x", "type": "quantitative", "axis": null},
        "y": {"field": "y", "type": "quantitative", "axis": null},
        "detail": {"field": "yaw", "type": "nominal"},
        "order": {"field": "pitch", "type": "quantitative"}
      }
    },
    {
      "data": {"name": "notes"},
      "mark": {"type": "text", "align": "right", "baseline": "alphabetic", "dy": 8, "fontSize": 22, "color": "#1a1a1a"},
      "encoding": {
        "x": {"field": "x", "type": "quantitative",
          "axis": {"orient": "top",
            "values": [-1.5, -1.375, -1.25, -1.125, -1, -0.875, -0.75, -0.625, -0.5, -0.375, -0.25, -0.125, 0, 0.125, 0.25, 0.375, 0.5, 0.625, 0.75, 0.875, 1, 1.125, 1.25, 1.375, 1.5],
            "labels": false, "title": null, "grid": false, "domainColor": "#222222", "tickColor": "#555555",
            "tickSize": {"condition": {"test": "abs(datum.value*2-round(datum.value*2))<0.001", "value": 15}, "value": 7}}},
        "y": {"field": "y", "type": "quantitative",
          "axis": {"orient": "right",
            "values": [-2, -1.875, -1.75, -1.625, -1.5, -1.375, -1.25, -1.125, -1, -0.875, -0.75, -0.625, -0.5, -0.375, -0.25, -0.125, 0, 0.125, 0.25, 0.375, 0.5, 0.625, 0.75, 0.875, 1, 1.125, 1.25, 1.375, 1.5],
            "labels": false, "title": null, "grid": false, "domainColor": "#222222", "tickColor": "#555555",
            "tickSize": {"condition": {"test": "abs(datum.value*2-round(datum.value*2))<0.001", "value": 15}, "value": 7}}},
        "text": {"field": "label"}
      }
    },
    {
      "data": {"name": "notes"},
      "mark": {"type": "text", "align": "left", "baseline": "alphabetic", "dx": 1, "dy": -4, "fontSize": 14, "color": "#1a1a1a"},
      "encoding": {
        "x": {"field": "x", "type": "quantitative", "axis": null},
        "y": {"field": "y", "type": "quantitative", "axis": null},
        "text": {"value": "0"}
      }
    }
  ],
  "resolve": {"axis": {"x": "independent", "y": "independent"}}
}
